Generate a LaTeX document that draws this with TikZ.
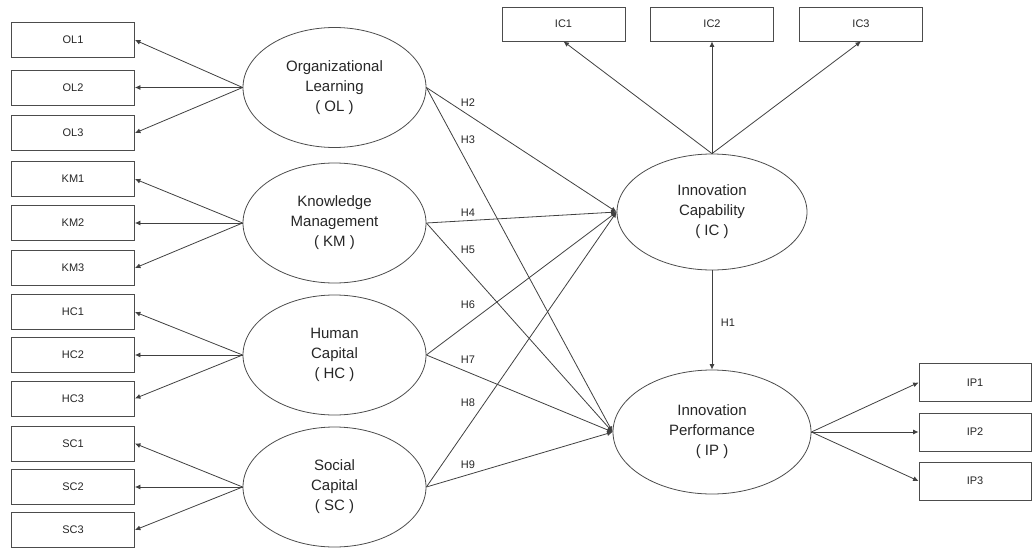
\documentclass[tikz,border=0pt]{standalone}
\usepackage{fontspec}
\setmainfont{Liberation Sans}
\usetikzlibrary{shapes.geometric,arrows.meta}
\begin{document}
\begin{tikzpicture}[x=1pt,y=-1pt,
  lat/.style={ellipse,draw=black!70,line width=0.8pt,inner sep=0pt,align=center,
    font=\fontsize{15}{20}\selectfont,text=black!85},
  ind/.style={rectangle,draw=black!70,line width=0.8pt,minimum width=123pt,minimum height=35pt,
    inner sep=0pt,font=\fontsize{11}{12}\selectfont,text=black!85},
  hlab/.style={font=\fontsize{11}{12}\selectfont,text=black!85,inner sep=0pt},
  arr/.style={draw=black!75,line width=0.8pt,-{Latex[length=5.5pt,width=5pt]}}]
\useasboundingbox (0,0) rectangle (1033,549);

% latent constructs
\node[lat,minimum width=183pt,minimum height=120pt] (OL) at (334.5,87.5) {Organizational\\Learning\\( OL )};
\node[lat,minimum width=183pt,minimum height=120pt] (KM) at (334.5,223) {Knowledge\\Management\\( KM )};
\node[lat,minimum width=183pt,minimum height=120pt] (HC) at (334.5,355) {Human\\Capital\\( HC )};
\node[lat,minimum width=183pt,minimum height=120pt] (SC) at (334.5,487) {Social\\Capital\\( SC )};
\node[lat,minimum width=190pt,minimum height=116pt] (IC) at (712,212) {Innovation\\Capability\\( IC )};
\node[lat,minimum width=198pt,minimum height=124pt] (IP) at (712,432) {Innovation\\Performance\\( IP )};

% left indicators
\foreach \n/\y in {OL1/40,OL2/87.5,OL3/133,KM1/179,KM2/223,KM3/268,HC1/312,HC2/355,HC3/398.5,SC1/443.5,SC2/487,SC3/530}
  \node[ind] (\n) at (73,\y) {\n};

% top indicators
\node[ind,minimum height=34pt] (IC1) at (563.5,24) {IC1};
\node[ind,minimum height=34pt] (IC2) at (712,24) {IC2};
\node[ind,minimum height=34pt] (IC3) at (861,24) {IC3};

% right indicators
\node[ind,minimum width=112pt,minimum height=38pt] (IP1) at (975,382.5) {IP1};
\node[ind,minimum width=112pt,minimum height=38pt] (IP2) at (975,432) {IP2};
\node[ind,minimum width=112pt,minimum height=38pt] (IP3) at (975,481) {IP3};

% measurement arrows
\foreach \c in {OL,KM,HC,SC}
  \foreach \i in {1,2,3}
    \draw[arr] (\c.west) -- (\c\i.east);
\foreach \i in {1,2,3}
  \draw[arr] (IC.north) -- (IC\i.south);
\foreach \i in {1,2,3}
  \draw[arr] (IP.east) -- (IP\i.west);

% structural arrows
\draw[arr] (OL.east) -- (IC.west);
\draw[arr] (OL.east) -- (IP.west);
\draw[arr] (KM.east) -- (IC.west);
\draw[arr] (KM.east) -- (IP.west);
\draw[arr] (HC.east) -- (IC.west);
\draw[arr] (HC.east) -- (IP.west);
\draw[arr] (SC.east) -- (IC.west);
\draw[arr] (SC.east) -- (IP.west);
\draw[arr] (IC.south) -- (IP.north);

% hypothesis labels
\node[hlab] (H1) at (728,323) {H1};
\node[hlab] (H2) at (468,103) {H2};
\node[hlab] (H3) at (468,140) {H3};
\node[hlab] (H4) at (468,213) {H4};
\node[hlab] (H5) at (468,250) {H5};
\node[hlab] (H6) at (468,305) {H6};
\node[hlab] (H7) at (468,360) {H7};
\node[hlab] (H8) at (468,403) {H8};
\node[hlab] (H9) at (468,465) {H9};
\end{tikzpicture}
\end{document}
